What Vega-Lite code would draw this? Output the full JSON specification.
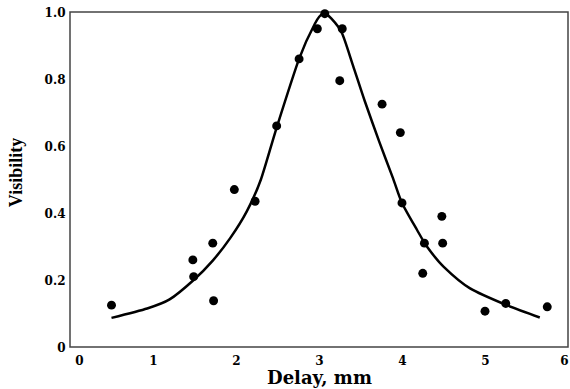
{
  "$schema": "https://vega.github.io/schema/vega-lite/v6.json",
  "autosize": "none",
  "padding": {"left": 70, "top": 12, "right": 2, "bottom": 42},
  "width": 498,
  "height": 335,
  "background": "white",
  "config": {
    "view": {"stroke": "#444", "strokeWidth": 1.5},
    "axis": {"grid": false, "ticks": false, "domain": false}
  },
  "datasets": {
    "pts": [
      {"delay": 0.5, "vis": 0.125},
      {"delay": 1.48, "vis": 0.26},
      {"delay": 1.49, "vis": 0.21},
      {"delay": 1.72, "vis": 0.31},
      {"delay": 1.73, "vis": 0.138},
      {"delay": 1.98, "vis": 0.47},
      {"delay": 2.23, "vis": 0.435},
      {"delay": 2.49, "vis": 0.66},
      {"delay": 2.76, "vis": 0.86},
      {"delay": 2.98, "vis": 0.95},
      {"delay": 3.07, "vis": 0.995},
      {"delay": 3.28, "vis": 0.95},
      {"delay": 3.25, "vis": 0.795},
      {"delay": 3.76, "vis": 0.725},
      {"delay": 3.98, "vis": 0.64},
      {"delay": 4.0, "vis": 0.43},
      {"delay": 4.27, "vis": 0.31},
      {"delay": 4.25, "vis": 0.22},
      {"delay": 4.48, "vis": 0.39},
      {"delay": 4.49, "vis": 0.31},
      {"delay": 5.0, "vis": 0.107},
      {"delay": 5.25, "vis": 0.13},
      {"delay": 5.75, "vis": 0.12}
    ],
    "fit": [
      {"delay": 0.5, "vis": 0.087},
      {"delay": 0.93, "vis": 0.115},
      {"delay": 1.2, "vis": 0.142},
      {"delay": 1.49, "vis": 0.2},
      {"delay": 1.72, "vis": 0.258},
      {"delay": 1.93, "vis": 0.325},
      {"delay": 2.13, "vis": 0.405},
      {"delay": 2.3, "vis": 0.5},
      {"delay": 2.49, "vis": 0.655},
      {"delay": 2.76, "vis": 0.86},
      {"delay": 2.95, "vis": 0.965},
      {"delay": 3.05, "vis": 0.995},
      {"delay": 3.15, "vis": 0.98},
      {"delay": 3.28, "vis": 0.935},
      {"delay": 3.41, "vis": 0.84},
      {"delay": 3.55, "vis": 0.735},
      {"delay": 3.73, "vis": 0.61},
      {"delay": 3.89, "vis": 0.505},
      {"delay": 4.0, "vis": 0.43},
      {"delay": 4.18, "vis": 0.35},
      {"delay": 4.3, "vis": 0.3},
      {"delay": 4.5, "vis": 0.24},
      {"delay": 4.82, "vis": 0.175},
      {"delay": 5.27, "vis": 0.124},
      {"delay": 5.66, "vis": 0.088}
    ]
  },
  "layer": [
    {
      "data": {"name": "fit"},
      "mark": {"type": "line", "color": "black", "strokeWidth": 2.5, "interpolate": "cardinal", "tension": 0.3},
      "encoding": {
        "x": {"field": "delay", "type": "quantitative"},
        "y": {"field": "vis", "type": "quantitative"}
      }
    },
    {
      "data": {"name": "pts"},
      "mark": {"type": "circle", "color": "black", "opacity": 1, "size": 80},
      "encoding": {
        "x": {
          "field": "delay", "type": "quantitative",
          "scale": {"domain": [0, 6], "nice": false, "zero": false},
          "axis": {
            "title": "Delay, mm",
            "values": [0, 1, 2, 3, 4, 5, 6],
            "format": "d",
            "labelFlush": false,
            "labelAlign": {"condition": {"test": "datum.value === 6", "value": "right"}, "value": "center"},
            "labelOffset": {"condition": {"test": "datum.value === 0", "value": 9}, "value": 0},
            "labelFont": "DejaVu Serif", "labelFontWeight": "bold", "labelFontSize": 12, "labelColor": "black",
            "labelPadding": 8,
            "titleFont": "DejaVu Serif", "titleFontWeight": "bold", "titleFontSize": 18, "titleColor": "black",
            "titleBaseline": "alphabetic", "titleY": 36
          }
        },
        "y": {
          "field": "vis", "type": "quantitative",
          "scale": {"domain": [0, 1], "nice": false},
          "axis": {
            "title": "Visibility",
            "values": [0, 0.2, 0.4, 0.6, 0.8, 1.0],
            "labelExpr": "datum.value === 0 ? '0' : format(datum.value, '.1f')",
            "labelFont": "DejaVu Serif", "labelFontWeight": "bold", "labelFontSize": 12, "labelColor": "black",
            "labelPadding": 5,
            "titleFont": "Liberation Serif", "titleFontWeight": "bold", "titleFontSize": 18, "titleColor": "black",
            "titleX": -45, "titleY": 160, "titleBaseline": "bottom"
          }
        }
      }
    }
  ]
}
